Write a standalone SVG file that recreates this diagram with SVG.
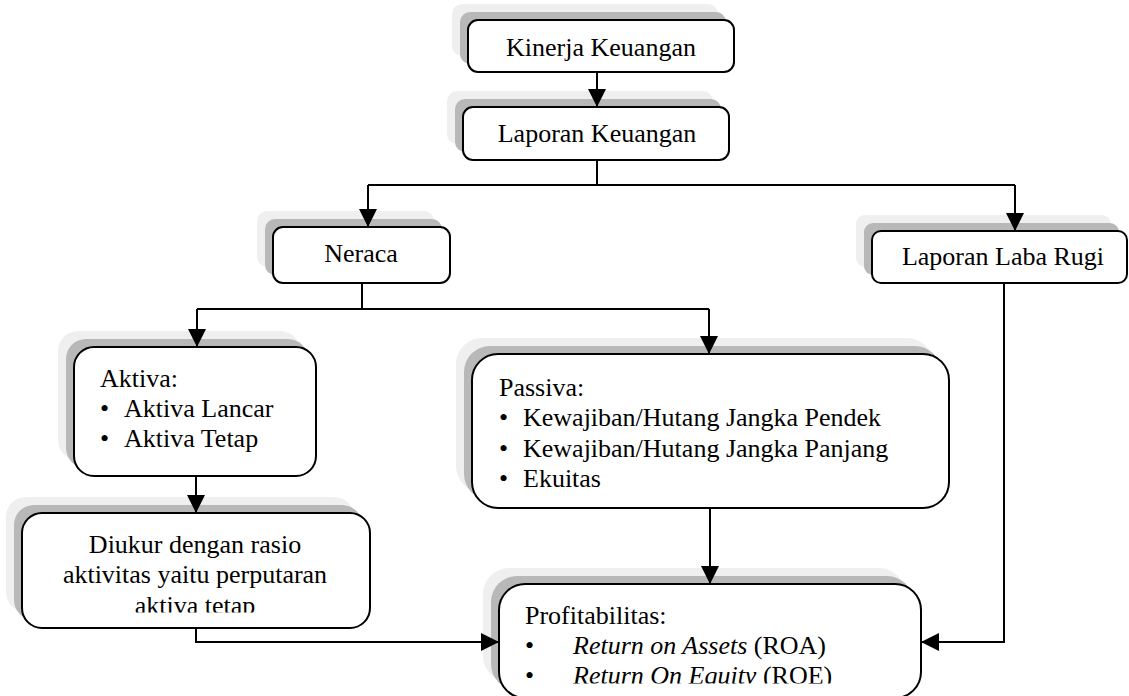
<svg xmlns="http://www.w3.org/2000/svg" width="1129" height="696" viewBox="0 0 1129 696">
<style>
.sh1{fill:#efefef}
.sh2{fill:#b8b8b8}
.box{fill:#ffffff;stroke:#000000;stroke-width:2}
.t{font-family:"Liberation Serif","Times New Roman",serif;font-size:26px;fill:#000000}
.c{text-anchor:middle}
.i{font-style:italic}
.ln{fill:none;stroke:#000000;stroke-width:2}
</style>
<defs>
<marker id="ah" viewBox="0 0 18 18" refX="18" refY="9" markerWidth="18" markerHeight="18" markerUnits="userSpaceOnUse" orient="auto">
<path d="M0,0 L18,9 L0,18 Z" fill="#000000"/>
</marker>
<clipPath id="clipD"><rect x="0" y="500" width="400" height="112.5"/></clipPath>
<clipPath id="clipP"><rect x="480" y="580" width="460" height="103.5"/></clipPath>
</defs>
<g id="node-kinerja">
<rect class="sh1" x="452" y="4" width="266" height="52" rx="10"/>
<rect class="sh2" x="460" y="12" width="266" height="52" rx="10"/>
<rect class="box" x="468" y="20" width="266" height="52" rx="10"/>
<text class="t c" x="601" y="56">Kinerja Keuangan</text>
</g>
<g id="node-laporan">
<rect class="sh1" x="447" y="91" width="266" height="53" rx="10"/>
<rect class="sh2" x="455" y="99" width="266" height="53" rx="10"/>
<rect class="box" x="463" y="107" width="266" height="53" rx="10"/>
<text class="t c" x="597" y="142">Laporan Keuangan</text>
</g>
<g id="node-neraca">
<rect class="sh1" x="257" y="211" width="177" height="56" rx="10"/>
<rect class="sh2" x="265" y="219" width="177" height="56" rx="10"/>
<rect class="box" x="273" y="227" width="177" height="56" rx="10"/>
<text class="t c" x="361" y="262">Neraca</text>
</g>
<g id="node-labarugi">
<rect class="sh1" x="856" y="215" width="255" height="52" rx="9"/>
<rect class="sh2" x="864" y="223" width="255" height="52" rx="9"/>
<rect class="box" x="872" y="231" width="255" height="52" rx="9"/>
<text class="t c" x="1003" y="265">Laporan Laba Rugi</text>
</g>
<g id="node-aktiva">
<rect class="sh1" x="58" y="331" width="242" height="129" rx="20"/>
<rect class="sh2" x="66" y="339" width="242" height="129" rx="20"/>
<rect class="box" x="74" y="347" width="242" height="129" rx="20"/>
<text class="t" x="100" y="387">Aktiva:</text>
<text class="t" x="100" y="417">•</text>
<text class="t" x="124" y="417">Aktiva Lancar</text>
<text class="t" x="100" y="447">•</text>
<text class="t" x="124" y="447">Aktiva Tetap</text>
</g>
<g id="node-diukur">
<rect class="sh1" x="6" y="497" width="348" height="115" rx="20"/>
<rect class="sh2" x="14" y="505" width="348" height="115" rx="20"/>
<rect class="box" x="22" y="513" width="348" height="115" rx="20"/>
<text class="t c" x="195" y="553">Diukur dengan rasio</text>
<text class="t c" x="195" y="583">aktivitas yaitu perputaran</text>
<text class="t c" x="195" y="614" clip-path="url(#clipD)">aktiva tetap</text>
</g>
<g id="node-passiva">
<rect class="sh1" x="456" y="338" width="477" height="154" rx="26"/>
<rect class="sh2" x="464" y="346" width="477" height="154" rx="26"/>
<rect class="box" x="472" y="354" width="477" height="154" rx="26"/>
<text class="t" x="499" y="396">Passiva:</text>
<text class="t" x="499" y="426">•</text>
<text class="t" x="523" y="426">Kewajiban/Hutang Jangka Pendek</text>
<text class="t" x="499" y="457">•</text>
<text class="t" x="523" y="457">Kewajiban/Hutang Jangka Panjang</text>
<text class="t" x="499" y="487">•</text>
<text class="t" x="523" y="487">Ekuitas</text>
</g>
<g id="node-profit">
<rect class="sh1" x="483" y="568" width="422" height="114" rx="26"/>
<rect class="sh2" x="491" y="576" width="422" height="114" rx="26"/>
<rect class="box" x="499" y="584" width="422" height="114" rx="26"/>
<text class="t" x="525" y="624">Profitabilitas:</text>
<text class="t" x="525" y="654">•</text>
<text class="t" x="573" y="654"><tspan class="i">Return on Assets</tspan> (ROA)</text>
<text class="t" x="525" y="684" clip-path="url(#clipP)">•</text>
<text class="t" x="573" y="684" clip-path="url(#clipP)"><tspan class="i">Return On Equity</tspan> (ROE)</text>
</g>
<g id="connectors">
<path class="ln" d="M597,72 L597,107" marker-end="url(#ah)"/>
<path class="ln" d="M597,160 L597,185"/>
<path class="ln" d="M368,185 L1015,185"/>
<path class="ln" d="M368,185 L368,227" marker-end="url(#ah)"/>
<path class="ln" d="M1015,185 L1015,231" marker-end="url(#ah)"/>
<path class="ln" d="M362,283 L362,309"/>
<path class="ln" d="M197,309 L709,309"/>
<path class="ln" d="M197,309 L197,347" marker-end="url(#ah)"/>
<path class="ln" d="M709,309 L709,354" marker-end="url(#ah)"/>
<path class="ln" d="M196,476 L196,513" marker-end="url(#ah)"/>
<path class="ln" d="M196,628 L196,642 L499,642" marker-end="url(#ah)"/>
<path class="ln" d="M710,508 L710,584" marker-end="url(#ah)"/>
<path class="ln" d="M1004,283 L1004,642 L921,642" marker-end="url(#ah)"/>
</g>
</svg>
